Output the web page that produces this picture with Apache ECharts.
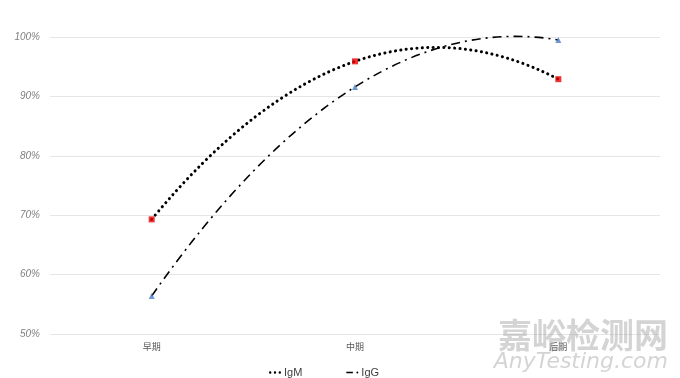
<!DOCTYPE html>
<html><head><meta charset="utf-8">
<script src="https://cdn.jsdelivr.net/npm/echarts@6/dist/echarts.min.js"></script>
<style>html,body{margin:0;padding:0;background:#fff}#c{width:680px;height:378px}</style>
</head><body><div id="c"></div>
<script>
const categories = ['早期', '中期', '后期'];
const igm = [69.3, 95.9, 92.9];
const igg = [56.4, 91.6, 99.5];
const yTicks = [50, 60, 70, 80, 90, 100];

// Quadratic (polynomial order 2) trendline through the three points, drawn as a
// quadratic Bezier in pixel space using the axis scales (api.coord).
function trendRenderer(values, style) {
  return function (params, api) {
    if (params.dataIndex !== 0) return null;
    const p = values.map((v, i) => api.coord([i, v]));
    const cpx = 2 * p[1][0] - (p[0][0] + p[2][0]) / 2;
    const cpy = 2 * p[1][1] - (p[0][1] + p[2][1]) / 2;
    return {
      type: 'bezierCurve',
      shape: { x1: p[0][0], y1: p[0][1], x2: p[2][0], y2: p[2][1], cpx1: cpx, cpy1: cpy },
      style: Object.assign({ fill: null, stroke: '#000' }, style),
      silent: true
    };
  };
}

const dotIcon = 'path://M0,1a1,1 0 1,0 2,0a1,1 0 1,0 -2,0zM4,1a1,1 0 1,0 2,0a1,1 0 1,0 -2,0zM8,1a1,1 0 1,0 2,0a1,1 0 1,0 -2,0z';
const dashDotIcon = 'path://M0,0.4h5.5v1.2h-5.5zM8.4,1a0.8,0.8 0 1,0 1.6,0a0.8,0.8 0 1,0 -1.6,0z';

const chart = echarts.init(document.getElementById('c'));
chart.setOption({
  animation: false,
  grid: { left: 50, right: 20, top: 37, bottom: 44 },
  legend: {
    data: [{ name: 'IgM', icon: dotIcon }, { name: 'IgG', icon: dashDotIcon }],
    left: 264, top: 362,
    itemWidth: 12, itemHeight: 3, itemGap: 44,
    textStyle: { fontSize: 11, color: '#404040', fontFamily: 'Liberation Sans', padding: [0, 0, 0, -2] }
  },
  xAxis: {
    type: 'category', data: categories, boundaryGap: true,
    axisLine: { show: false }, axisTick: { show: false },
    axisLabel: { fontSize: 9, color: '#595959', margin: 8, fontFamily: 'Noto Sans CJK SC' }
  },
  yAxis: {
    type: 'value', min: yTicks[0], max: yTicks[yTicks.length - 1], interval: 10,
    axisLine: { show: false }, axisTick: { show: false },
    splitLine: { lineStyle: { color: '#e6e6e6', width: 1 } },
    axisLabel: { fontSize: 10, color: '#7f7f7f', fontStyle: 'italic', margin: 10,
      fontFamily: 'Liberation Sans', formatter: v => v + '%' }
  },
  series: [
    { name: 'IgM', type: 'custom', data: igm.map((v, i) => [i, v]),
      encode: { x: 0, y: 1 }, itemStyle: { color: '#000' }, z: 3,
      renderItem: trendRenderer(igm, { lineWidth: 3, lineDash: [0.1, 5.3], lineCap: 'round' }) },
    { name: 'IgG', type: 'custom', data: igg.map((v, i) => [i, v]),
      encode: { x: 0, y: 1 }, itemStyle: { color: '#000' }, z: 3,
      renderItem: trendRenderer(igg, { lineWidth: 1.6, lineDash: [9, 5, 2, 5] }) },
    { name: 'IgM点', type: 'scatter', data: igm, symbol: 'rect', symbolSize: 6,
      itemStyle: { color: '#e80000' }, z: 5 },
    { name: 'IgG点', type: 'scatter', data: igg, symbol: 'triangle', symbolSize: 6,
      itemStyle: { color: '#4a7fc4' }, z: 5 }
  ],
  graphic: [
    { type: 'text', right: 12, top: 318, z: 10,
      style: { text: '嘉峪检测网', font: 'bold 34px "Noto Sans CJK SC"', fill: 'rgba(160,160,160,0.45)' } },
    { type: 'text', right: 12, top: 351, z: 10,
      style: { text: 'AnyTesting.com', font: 'italic 22px "DejaVu Sans"', fill: 'rgba(160,160,160,0.45)' } }
  ]
});
</script></body></html>
